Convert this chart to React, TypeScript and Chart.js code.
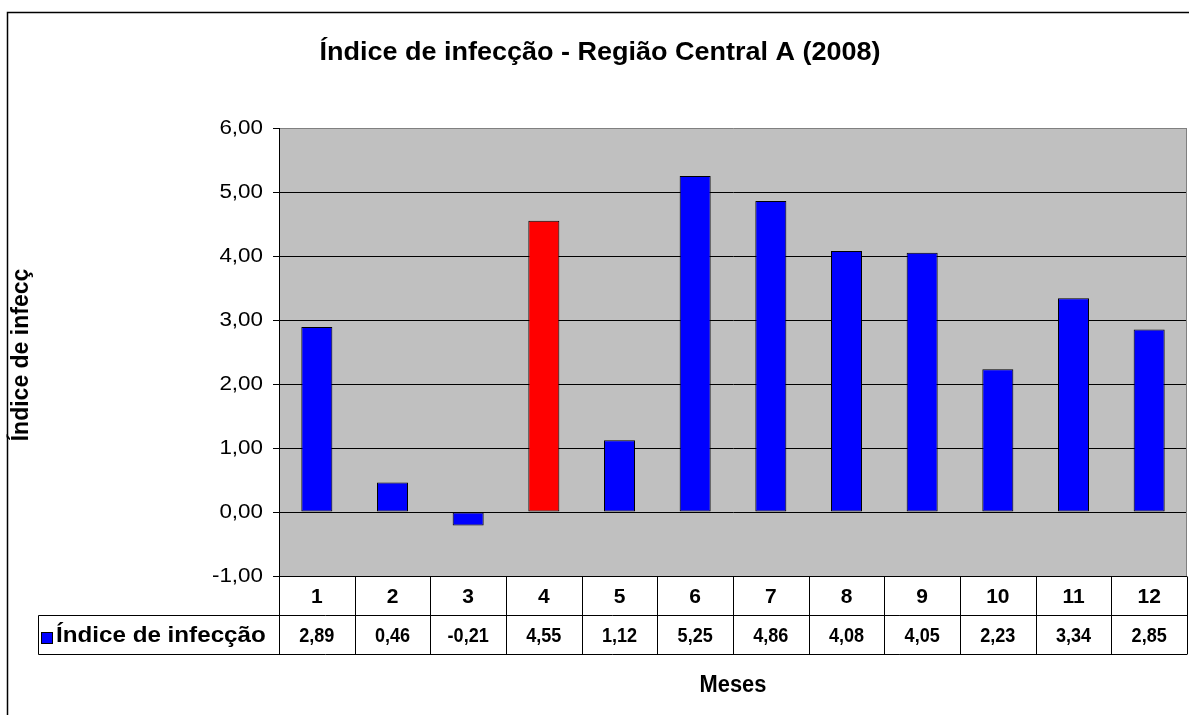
import React, { useEffect, useRef } from "react";
import { Chart, registerables } from "chart.js";

Chart.register(...registerables);

// ---- data ----
const months = ["1", "2", "3", "4", "5", "6", "7", "8", "9", "10", "11", "12"];
const infectionIndex = [2.89, 0.46, -0.21, 4.55, 1.12, 5.25, 4.86, 4.08, 4.05, 2.23, 3.34, 2.85];
const highlightedMonth = "4";
const seriesName = "Índice de infecção";
const chartTitle = "Índice de infecção - Região Central A (2008)";
const yAxisTitle = "Índice de infecç";
const xAxisTitle = "Meses";
const yMin = -1;
const yMax = 6;
const yStep = 1;

const fmt = (v: number) => v.toFixed(2).replace(".", ",");
const FONT = '"Liberation Sans", Arial, sans-serif';

function drawText(
  ctx: CanvasRenderingContext2D,
  s: string,
  x: number,
  y: number,
  size: number,
  bold: boolean,
  sx: number,
  align: CanvasTextAlign,
  rotate = 0
) {
  ctx.save();
  ctx.translate(x, y);
  if (rotate) ctx.rotate(rotate);
  ctx.scale(sx, 1);
  ctx.font = `${bold ? "bold " : ""}${size}px ${FONT}`;
  ctx.fillStyle = "#000";
  ctx.textAlign = align;
  ctx.textBaseline = "middle";
  ctx.fillText(s, 0, 0);
  ctx.restore();
}

const excelPlugin = {
  id: "excelLook",
  beforeDraw(chart: any) {
    const { ctx, chartArea: a, width, height } = chart;
    ctx.save();
    ctx.fillStyle = "#FFFFFF";
    ctx.fillRect(0, 0, width, height);
    ctx.fillStyle = "#C0C0C0";
    ctx.fillRect(a.left, a.top, a.right - a.left, a.bottom - a.top);
    ctx.restore();
  },
  afterDraw(chart: any) {
    const { ctx, chartArea: a, width, height } = chart;
    const xs = chart.scales.x;
    const ys = chart.scales.y;
    ctx.save();

    // right border of plot area
    ctx.strokeStyle = "#808080";
    ctx.lineWidth = 1;
    ctx.beginPath();
    ctx.moveTo(Math.round(a.right) - 0.5, a.top);
    ctx.lineTo(Math.round(a.right) - 0.5, a.bottom);
    ctx.stroke();

    // outer frame
    ctx.strokeStyle = "#000";
    ctx.lineWidth = 1.5;
    ctx.beginPath();
    ctx.moveTo(7.5, height + 2);
    ctx.lineTo(7.5, 12.5);
    ctx.lineTo(width + 2, 12.5);
    ctx.stroke();

    // y tick labels
    ys.ticks.forEach((t: any) => {
      const py = ys.getPixelForValue(t.value);
      drawText(ctx, fmt(t.value), 263, py, 20, false, 1.12, "right");
    });

    // title
    drawText(ctx, chartTitle, 600, 53, 25, true, 1.08, "center");

    // y axis title
    drawText(ctx, yAxisTitle, 22, (a.top + a.bottom) / 2 + 3, 23, true, 1, "center", -Math.PI / 2);

    // data table
    const n = months.length;
    const step = xs.getPixelForValue(1) - xs.getPixelForValue(0);
    const top = Math.round(a.bottom) + 0.5;
    const mid = top + 39;
    const bot = mid + 39;
    const legendLeft = 38.5;
    ctx.strokeStyle = "#000";
    ctx.lineWidth = 1;
    ctx.beginPath();
    ctx.moveTo(a.left, top);
    ctx.lineTo(a.right, top);
    ctx.moveTo(legendLeft, mid);
    ctx.lineTo(a.right, mid);
    ctx.moveTo(legendLeft, bot);
    ctx.lineTo(a.right, bot);
    ctx.moveTo(legendLeft, mid);
    ctx.lineTo(legendLeft, bot);
    for (let i = 0; i <= n; i++) {
      const bx = Math.round(xs.getPixelForValue(0) - step / 2 + i * step) + 0.5;
      ctx.moveTo(bx, top);
      ctx.lineTo(bx, bot);
    }
    ctx.stroke();

    months.forEach((m, i) => {
      const cx = xs.getPixelForValue(i);
      drawText(ctx, m, cx, (top + mid) / 2 + 1, 21, true, 1, "center");
      drawText(ctx, fmt(infectionIndex[i]), cx, (mid + bot) / 2 + 1, 21, true, 0.86, "center");
    });

    // legend key
    ctx.fillStyle = "#0000FF";
    ctx.fillRect(41.5, 632.5, 11, 11);
    ctx.strokeStyle = "#000";
    ctx.strokeRect(41.5, 632.5, 11, 11);
    drawText(ctx, seriesName, 56, (mid + bot) / 2 + 1, 22, true, 1.1, "left");

    // x axis title
    drawText(ctx, xAxisTitle, (a.left + a.right) / 2, 686, 23, true, 0.95, "center");

    ctx.restore();
  },
};

export default function App() {
  const ref = useRef<HTMLCanvasElement | null>(null);

  useEffect(() => {
    if (!ref.current) return;
    const chart = new Chart(ref.current, {
      type: "bar",
      data: {
        labels: months,
        datasets: [
          {
            label: seriesName,
            data: infectionIndex,
            backgroundColor: months.map((m) => (m === highlightedMonth ? "#FF0000" : "#0000FF")),
            borderColor: "#000000",
            borderWidth: 1,
            borderSkipped: false,
            barPercentage: 0.41,
            categoryPercentage: 1,
          },
        ],
      },
      options: {
        animation: false,
        responsive: true,
        maintainAspectRatio: false,
        layout: { padding: { left: 0, top: 128, right: 2, bottom: 139 } },
        plugins: {
          legend: { display: false },
          title: { display: false },
          tooltip: { enabled: false },
        },
        scales: {
          x: {
            display: false,
            offset: true,
          },
          y: {
            min: yMin,
            max: yMax,
            ticks: { stepSize: yStep, display: false },
            afterFit: (scale: any) => {
              scale.width = 279;
            },
            grid: {
              color: (c: any) => (c.tick && c.tick.value === yMax ? "#808080" : "#000000"),
              tickColor: "#000000",
              tickLength: 6,
              drawTicks: true,
              lineWidth: 1,
            },
            border: { display: true, color: "#000000", width: 1 },
          },
        },
      },
      plugins: [excelPlugin],
    });
    return () => chart.destroy();
  }, []);

  return (
    <div style={{ position: "absolute", left: 0, top: 0, width: 1189, height: 715 }}>
      <canvas ref={ref} />
    </div>
  );
}
